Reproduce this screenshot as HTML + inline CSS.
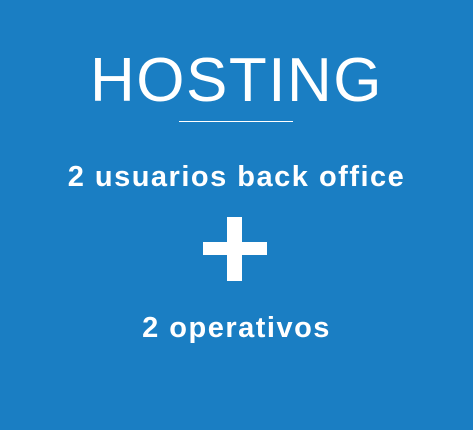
<!DOCTYPE html>
<html><head><style>
html,body{margin:0;padding:0}
body{width:473px;height:430px;background:#1a7ec3;position:relative;overflow:hidden;font-family:"Liberation Sans",sans-serif;color:#fff}
.t{position:absolute;left:0;width:473px;text-align:center;white-space:nowrap;line-height:1}
</style></head><body>
<div class="t" style="top:50px;font-size:62px;letter-spacing:1.5px;">HOSTING</div>
<div style="position:absolute;left:179px;top:121px;width:114px;height:1px;background:#fff"></div>
<div class="t" style="top:163px;font-size:29px;font-weight:bold;letter-spacing:1.5px;">2 usuarios back office</div>
<div style="position:absolute;left:227px;top:217px;width:15px;height:64px;background:#fff"></div>
<div style="position:absolute;left:203px;top:242px;width:64px;height:13px;background:#fff"></div>
<div class="t" style="top:314px;font-size:29px;font-weight:bold;letter-spacing:1.5px;">2 operativos</div>
</body></html>
